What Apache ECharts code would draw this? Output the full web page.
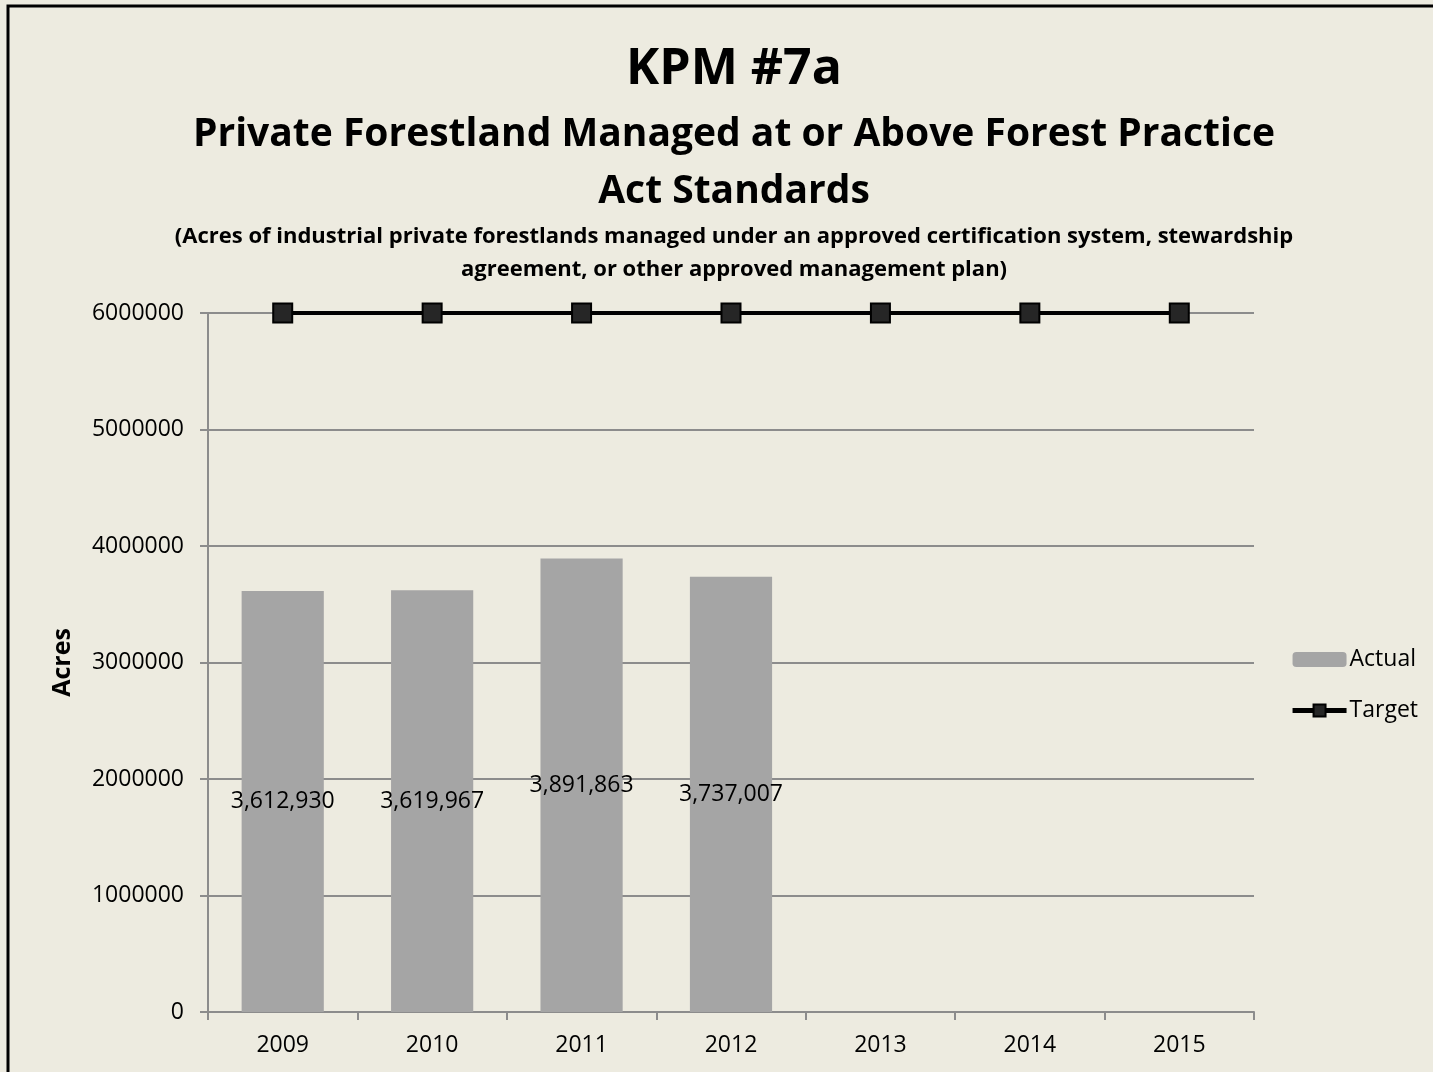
<!DOCTYPE html>
<html>
<head>
<meta charset="utf-8">
<style>
  html, body { margin: 0; padding: 0; background: #edebe0; }
  #chart { width: 1433px; height: 1072px; }
</style>
<script src="https://cdn.jsdelivr.net/npm/echarts@6/dist/echarts.min.js"></script>
</head>
<body>
<div id="chart"></div>
<script>
const years = ['2009', '2010', '2011', '2012', '2013', '2014', '2015'];
const actual = [3612930, 3619967, 3891863, 3737007, null, null, null];
const target = [6000000, 6000000, 6000000, 6000000, 6000000, 6000000, 6000000];
const yTicks = { min: 0, max: 6000000, interval: 1000000 };

const font = '"Open Sans", "Noto Sans", sans-serif';
const myChart = echarts.init(document.getElementById('chart'));

const option = {
  backgroundColor: '#edebe0',
  textStyle: { fontFamily: font },
  graphic: [
    {
      type: 'rect',
      shape: { x: 8, y: 6, width: 1500, height: 1200 },
      style: { fill: 'none', stroke: '#000', lineWidth: 3 },
      silent: true
    }
  ],
  title: [
    {
      text: 'KPM #7a',
      left: 729,
      textAlign: 'center',
      top: 35,
      textStyle: { fontSize: 50, fontWeight: 'bold', color: '#000', lineHeight: 60, fontFamily: font }
    },
    {
      text: 'Private Forestland Managed at or Above Forest Practice\nAct Standards',
      left: 729,
      textAlign: 'center',
      top: 101,
      textStyle: { fontSize: 39, fontWeight: 'bold', color: '#000', lineHeight: 57, fontFamily: font }
    },
    {
      text: '(Acres of industrial private forestlands managed under an approved certification system, stewardship\nagreement, or other approved management plan)',
      left: 729,
      textAlign: 'center',
      top: 215,
      textStyle: { fontSize: 22, fontWeight: 'bold', color: '#000', lineHeight: 33, fontFamily: font }
    }
  ],
  legend: {
    orient: 'vertical',
    right: 10,
    top: 643,
    itemWidth: 54,
    itemHeight: 15,
    itemGap: 28,
    textStyle: { fontSize: 23, color: '#000', padding: [0, 0, 0, -2] },
    data: [
      { name: 'Actual' },
      { name: 'Target', lineStyle: { width: 5, color: '#000' } }
    ]
  },
  grid: {
    left: 208,
    right: 179,
    top: 313,
    bottom: 60,
    containLabel: false
  },
  xAxis: {
    type: 'category',
    data: years,
    axisLine: { lineStyle: { color: '#8c8c8c', width: 2 } },
    axisTick: { show: true, alignWithLabel: false, length: 8, lineStyle: { color: '#8c8c8c', width: 2 } },
    axisLabel: { fontSize: 23, color: '#000', margin: 22 }
  },
  yAxis: {
    type: 'value',
    min: yTicks.min,
    max: yTicks.max,
    interval: yTicks.interval,
    name: 'Acres',
    nameLocation: 'middle',
    nameGap: 133,
    nameTextStyle: { fontSize: 25, fontWeight: 'bold', color: '#000' },
    axisLine: { show: true, lineStyle: { color: '#8c8c8c', width: 2 } },
    axisTick: { show: true, length: 8, lineStyle: { color: '#8c8c8c', width: 2 } },
    axisLabel: { fontSize: 23, color: '#000', margin: 24, formatter: (v) => String(v) },
    splitLine: { show: true, lineStyle: { color: '#8c8c8c', width: 2 } }
  },
  series: [
    {
      name: 'Actual',
      type: 'bar',
      data: actual,
      barWidth: '55%',
      itemStyle: { color: '#a5a5a5' },
      label: {
        show: true,
        position: 'inside',
        fontSize: 23,
        color: '#000',
        formatter: (p) => p.value.toLocaleString('en-US')
      }
    },
    {
      name: 'Target',
      type: 'line',
      data: target,
      symbol: 'rect',
      symbolSize: 19,
      lineStyle: { color: '#000', width: 4 },
      itemStyle: { color: '#262626', borderColor: '#000', borderWidth: 2 },
      z: 5
    }
  ]
};

option && myChart.setOption(option);
</script>
</body>
</html>
